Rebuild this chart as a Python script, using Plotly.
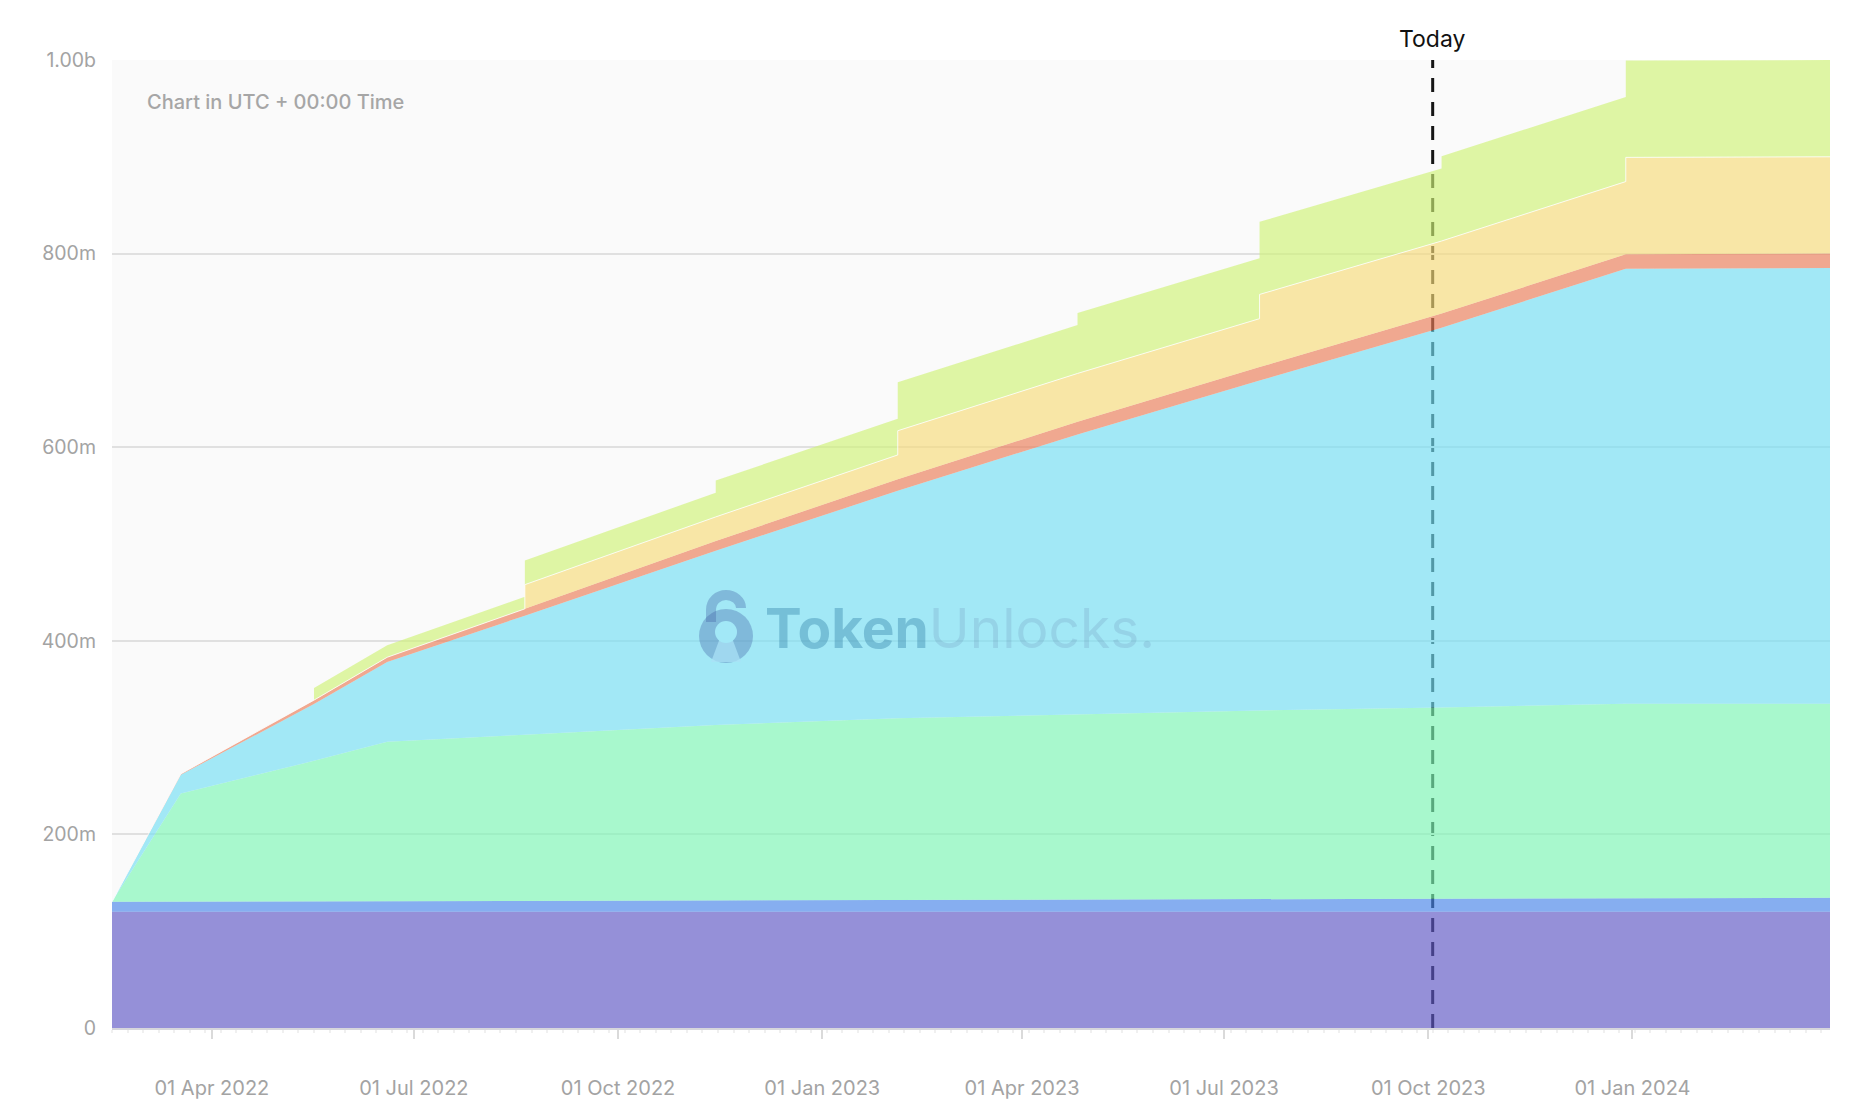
import pandas as pd
import plotly.graph_objects as go

# ---------------- data (values in millions of tokens) ----------------
dates = ["2022-02-15", "2022-03-18", "2022-05-17", "2022-06-19", "2022-08-20", "2022-11-14",
         "2023-02-04", "2023-04-26", "2023-07-17", "2023-10-07", "2023-12-29", "2024-03-30"]

purple_vals = [120, 120, 120, 120, 120, 120, 120, 120, 120, 120, 120, 120]
blue_vals = [10.3, 10.5, 10.9, 11.1, 11.5, 12.0, 12.5, 13.0, 13.5, 14.0, 14.5, 14.5]
green_vals = [0, 111.8, 145.1, 164.5, 171.5, 181.0, 187.5, 191.0, 194.5, 197.0, 200.5, 200.5]
cyan_vals = [0, 19.2, 58.7, 82.4, 123.0, 180.0, 235.0, 289.2, 340.8, 392.5, 449.4, 450.0]
red_vals = [0, 1, 4, 5, 7, 10, 12, 13, 14, 14.5, 15, 15]

yellow_dates = ["2022-08-20", "2023-02-04", "2023-07-17", "2023-12-29"]
yellow_amounts = [25, 25, 25, 25]
lime_dates = ["2022-05-17", "2022-08-20", "2022-11-14", "2023-02-04",
              "2023-04-26", "2023-07-17", "2023-10-07", "2023-12-29"]
lime_amounts = [12.5, 12.5, 12.5, 12.5, 12.5, 12.5, 12.5, 12.5]

today = "2023-10-03"

tick_dates = ["2022-04-01", "2022-07-01", "2022-10-01", "2023-01-01",
              "2023-04-01", "2023-07-01", "2023-10-01", "2024-01-01"]
tick_text = ["01 Apr 2022", "01 Jul 2022", "01 Oct 2022", "01 Jan 2023",
             "01 Apr 2023", "01 Jul 2023", "01 Oct 2023", "01 Jan 2024"]
y_tickvals = [0, 200, 400, 600, 800, 1000]
y_ticktext = ["0", "200m", "400m", "600m", "800m", "1.00b"]

# ---------------- build common x grid (pre/post points at cliff unlocks) ----------------
step_set = set(yellow_dates) | set(lime_dates)


def cum_at(t, unlock_dates, amounts, inclusive):
    tot = 0.0
    for d, a in zip(unlock_dates, amounts):
        dd = pd.Timestamp(d)
        if dd < t or (inclusive and dd == t):
            tot += a
    return tot


xs = []
idx = []
flags = []
for i, d in enumerate(dates):
    t = pd.Timestamp(d)
    if d in step_set:
        xs.append(t)
        idx.append(i)
        flags.append(False)
        xs.append(t + pd.Timedelta(minutes=1))
        idx.append(i)
        flags.append(True)
    else:
        xs.append(t)
        idx.append(i)
        flags.append(True)


def expand(vals):
    return [vals[i] for i in idx]


yellow_series = [cum_at(pd.Timestamp(dates[i]), yellow_dates, yellow_amounts, f) for i, f in zip(idx, flags)]
lime_series = [cum_at(pd.Timestamp(dates[i]), lime_dates, lime_amounts, f) for i, f in zip(idx, flags)]

series = [
    ("Allocation A", expand(purple_vals), "rgba(96,87,198,0.65)"),
    ("Allocation B", expand(blue_vals), "rgba(72,133,235,0.65)"),
    ("Allocation C", expand(green_vals), "rgba(125,247,181,0.65)"),
    ("Allocation D", expand(cyan_vals), "rgba(115,222,245,0.65)"),
    ("Allocation E", expand(red_vals), "rgba(235,124,88,0.65)"),
    ("Allocation F", yellow_series, "rgba(248,219,121,0.65)"),
    ("Allocation G", lime_series, "rgba(208,242,119,0.65)"),
]

fig = go.Figure()
for name, vals, col in series:
    line = dict(width=0, color=col)
    if name == "Allocation F":
        line = dict(width=1, color="rgba(255,255,255,0.8)")
    fig.add_trace(go.Scatter(
        x=xs, y=vals, name=name, mode="lines", stackgroup="one",
        fillcolor=col, line=line, showlegend=False, hoverinfo="skip"))

FONT = "Inter, Roboto, sans-serif"

fig.update_layout(
    width=1850, height=1106,
    margin=dict(l=112, r=20, t=60, b=78, autoexpand=False),
    paper_bgcolor="white",
    plot_bgcolor="#fafafa",
    font=dict(family=FONT, color="#a3a3a3", size=19),
    showlegend=False,
    xaxis=dict(
        type="date",
        automargin=False,
        range=[dates[0], dates[-1]],
        tickvals=tick_dates, ticktext=tick_text,
        showgrid=False, zeroline=False,
        showline=True, linecolor="#d6d6dc", linewidth=2,
        ticks="outside", ticklen=9, tickcolor="#dadada", tickwidth=1.5,
        ticklabelstandoff=32,
        tickfont=dict(size=20, color="#a3a3a3", family=FONT),
        minor=dict(ticks="outside", ticklen=3, tickcolor="#f0f0f0",
                   dtick=7 * 86400000, tick0="2022-02-15", showgrid=False),
    ),
    yaxis=dict(
        automargin=False,
        range=[0, 1000],
        tickvals=y_tickvals, ticktext=y_ticktext,
        showgrid=True, gridcolor="#e0e0e0", gridwidth=1.5,
        zeroline=False, showline=False,
        ticklabelstandoff=15,
        tickfont=dict(size=19.5, color="#a3a3a3", family=FONT),
    ),
)

# Today line (drawn below the translucent areas)
fig.add_shape(type="line", x0=today, x1=today, xref="x", yref="paper", y0=0, y1=1,
              line=dict(color="#151515", width=3, dash="14px,10px"), layer="below")
fig.add_annotation(x=today, y=1, xref="x", yref="paper", yanchor="bottom", yshift=5,
                   text="Today", showarrow=False,
                   font=dict(family=FONT, size=23, color="#111111"))

# Timezone note
fig.add_annotation(x=0.0193, y=0.957, xref="paper", yref="paper", xanchor="left", yanchor="middle",
                   text="Chart in UTC + 00:00 Time", showarrow=False,
                   font=dict(family=FONT, size=20, color="#a6a6a6", weight=500))

# Watermark
fig.add_annotation(x=0.4936, y=0.4132, xref="paper", yref="paper", xanchor="center", yanchor="middle",
                   text="<b>Token</b><span style='color:rgba(80,95,150,0.42)'>Unlocks.</span>",
                   showarrow=False,
                   font=dict(family=FONT, size=55, color="rgba(40,120,160,0.36)"))

lx, ly = 0.3574, 0.405
lock_col = "rgba(60,90,160,0.33)"
fig.add_shape(type="circle", xref="paper", yref="paper", xsizemode="pixel", ysizemode="pixel",
              xanchor=lx, yanchor=ly, x0=-27, x1=27, y0=-27, y1=27,
              fillcolor=lock_col, line=dict(width=0))
fig.add_shape(type="path", xref="paper", yref="paper", xsizemode="pixel", ysizemode="pixel",
              xanchor=lx, yanchor=ly,
              path="M -15,14 L -15,26 C -15,35 -8,41 0,41 C 8,41 15,35 15,28",
              line=dict(color=lock_col, width=10))
fig.add_shape(type="path", xref="paper", yref="paper", xsizemode="pixel", ysizemode="pixel",
              xanchor=lx, yanchor=ly,
              path="M -6,-2 L -15,-26 L 15,-26 L 6,-2 Z",
              fillcolor="rgba(170,225,245,0.75)", line=dict(width=0))
fig.add_shape(type="circle", xref="paper", yref="paper", xsizemode="pixel", ysizemode="pixel",
              xanchor=lx, yanchor=ly, x0=-11, x1=11, y0=-7, y1=15,
              fillcolor="rgb(162,232,247)", line=dict(width=0))

fig.write_html("out.html", config={"displayModeBar": False},
               post_script="document.body.style.margin='0';")
